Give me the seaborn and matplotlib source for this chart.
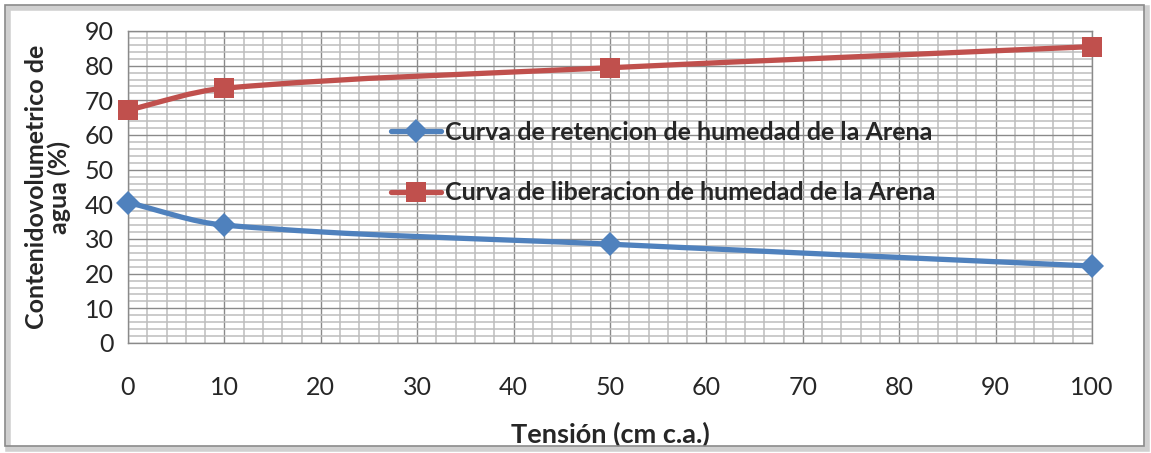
import numpy as np
import pandas as pd
import matplotlib
matplotlib.use("Agg")
import matplotlib.pyplot as plt
import seaborn as sns
from matplotlib.path import Path
from matplotlib.patches import PathPatch, Rectangle
from matplotlib.lines import Line2D
from matplotlib.ticker import MultipleLocator

# data
tension = [0, 10, 50, 100]
retencion = [40.5, 34.0, 28.5, 22.2]
liberacion = [67.2, 73.5, 79.4, 85.5]
serie_ret = "Curva de retencion de humedad de la Arena"
serie_lib = "Curva de liberacion de humedad de la Arena"

blue = "#4F81BD"
red = "#C0504D"

sns.set_style("white")
plt.rcParams["font.family"] = ["Lato", "DejaVu Sans"]

fig = plt.figure(figsize=(11.51, 4.53), dpi=100)
ax = fig.add_axes([128 / 1151, 1 - 343 / 453, 964 / 1151, 312 / 453])

ax.set_xlim(0, 100)
ax.set_ylim(0, 90)


def smooth_path(xs, ys, sx, sy):
    # excel-like smoothed line, bezier through the data points
    P = np.column_stack([np.asarray(xs, float) * sx, np.asarray(ys, float) * sy])
    n = len(P)
    verts = [P[0]]
    codes = [Path.MOVETO]
    for i in range(n - 1):
        p0 = P[max(i - 1, 0)]
        p1 = P[i]
        p2 = P[i + 1]
        p3 = P[min(i + 2, n - 1)]
        d = np.linalg.norm(p2 - p1)
        t1 = (p2 - p0) / np.linalg.norm(p2 - p0)
        t2 = (p3 - p1) / np.linalg.norm(p3 - p1)
        verts += [p1 + t1 * d / 3, p2 - t2 * d / 3, p2]
        codes += [Path.CURVE4] * 3
    verts = np.array(verts) / [sx, sy]
    return Path(verts, codes)


sx, sy = 964 / 100, 312 / 90
for ys, col in [(retencion, blue), (liberacion, red)]:
    ax.add_patch(PathPatch(smooth_path(tension, ys, sx, sy), facecolor="none",
                           edgecolor=col, lw=3.8, capstyle="round", zorder=3,
                           clip_on=False))

df = pd.DataFrame({"x": tension * 2,
                   "y": retencion + liberacion,
                   "serie": [serie_ret] * 4 + [serie_lib] * 4})
sns.lineplot(data=df[df.serie == serie_ret], x="x", y="y", ax=ax, color=blue,
             marker="D", markersize=12, linewidth=0, markeredgewidth=0, zorder=4,
             legend=False, clip_on=False)
sns.lineplot(data=df[df.serie == serie_lib], x="x", y="y", ax=ax, color=red,
             marker="s", markersize=14, linewidth=0, markeredgewidth=0, zorder=4,
             legend=False, clip_on=False)

# grid
ax.xaxis.set_major_locator(MultipleLocator(10))
ax.yaxis.set_major_locator(MultipleLocator(10))
ax.xaxis.set_minor_locator(MultipleLocator(2))
ax.yaxis.set_minor_locator(MultipleLocator(2))
ax.grid(True, which="major", color="#8a8a8a", lw=1.0, zorder=1)
ax.grid(True, which="minor", color="#bdbdbd", lw=1.1, zorder=0)
ax.set_axisbelow(True)
for s in ax.spines.values():
    s.set_color("#8a8a8a")
    s.set_linewidth(1.0)
ax.tick_params(which="major", direction="out", length=6, width=1, color="#8a8a8a",
               labelsize=18, pad=18)
ax.tick_params(axis="y", pad=4)
ax.tick_params(which="minor", length=0)

ax.set_xlabel("Tensión (cm c.a.)", fontsize=19.5, fontweight="bold", labelpad=16)
ax.set_ylabel("Contenidovolumetrico de\nagua (%)", fontsize=18, fontweight="bold",
              labelpad=10, linespacing=1.0)

handles = [Line2D([], [], color=blue, lw=3.8, marker="D", markersize=12, markeredgewidth=0),
           Line2D([], [], color=red, lw=3.8, marker="s", markersize=14, markeredgewidth=0)]
ax.legend(handles, [serie_ret, serie_lib], loc="center left",
          bbox_to_anchor=(0.2495, 0.578), frameon=False, handlelength=2.0,
          handletextpad=0.15, labelspacing=1.5,
          prop={"size": 18, "weight": "bold"})

# chart border with shadow
fig.patches.append(Rectangle((8 / 1151, 4 / 453), 1139 / 1151, 441 / 453,
                             transform=fig.transFigure, facecolor="none",
                             edgecolor="#d0d0d0", lw=4, zorder=0))
fig.patches.append(Rectangle((5 / 1151, 7 / 453), 1139 / 1151, 441 / 453,
                             transform=fig.transFigure, facecolor="none",
                             edgecolor="#8a8a8a", lw=1.2, zorder=1))

fig.savefig("out.png", dpi=100)
